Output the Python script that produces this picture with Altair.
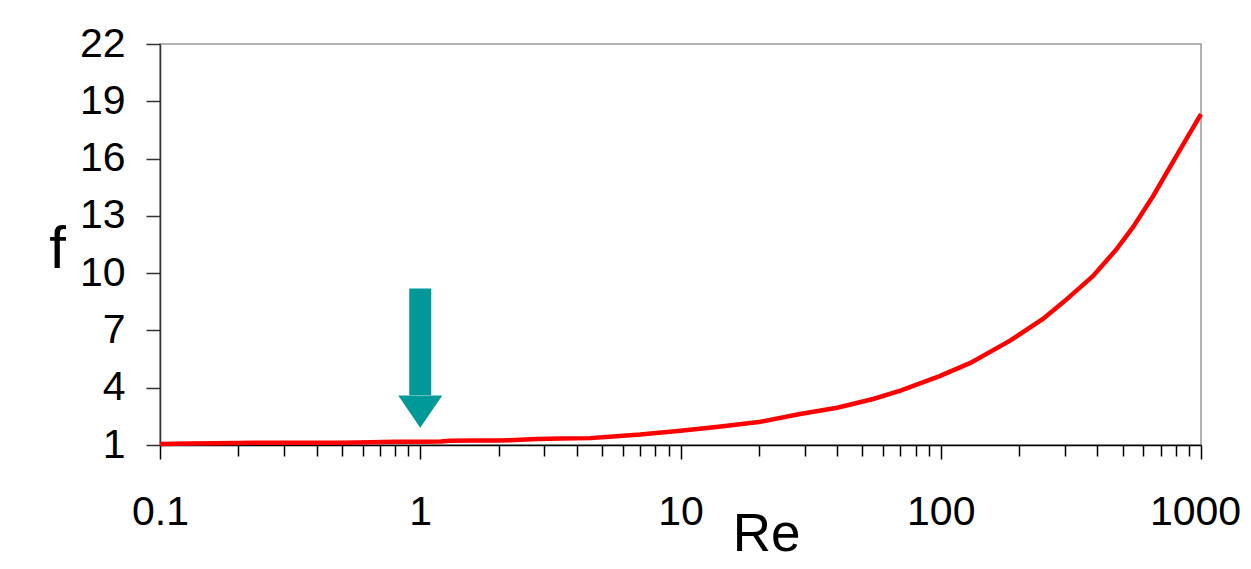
import altair as alt
import pandas as pd

# Curve data
re_vals = [0.1, 0.13, 0.2, 0.3, 0.5, 0.65, 0.8, 1.0, 1.2, 1.3, 1.6, 2.0, 2.2, 2.8,
           3.5, 4.5, 5.5, 7.0, 10, 14, 20, 28.8, 40, 55, 70, 99, 130, 184, 247,
           300, 385, 470, 548, 655, 809, 1000]
f_vals = [1.05, 1.08, 1.11, 1.12, 1.12, 1.15, 1.17, 1.17, 1.18, 1.22, 1.23, 1.23,
          1.25, 1.32, 1.34, 1.36, 1.45, 1.55, 1.75, 1.95, 2.2, 2.62, 2.95, 3.41,
          3.85, 4.61, 5.3, 6.45, 7.6, 8.55, 9.85, 11.2, 12.41, 14.04, 16.2, 18.33]

# Axis ticks
x_tick_values = [0.1, 0.2, 0.3, 0.4, 0.5, 0.6, 0.7, 0.8, 0.9,
                 1, 2, 3, 4, 5, 6, 7, 8, 9,
                 10, 20, 30, 40, 50, 60, 70, 80, 90,
                 100, 200, 300, 400, 500, 600, 700, 800, 900, 1000]
x_label_values = [0.1, 1, 10, 100, 1000]
y_tick_values = [1, 4, 7, 10, 13, 16, 19, 22]

# Arrow annotation (at Re = 1)
arrow_re = [1.0]
arrow_top = [9.2]
arrow_base = [3.6]
arrow_head = [2.75]

curve = pd.DataFrame({"Re": re_vals, "f": f_vals})
arrow = pd.DataFrame({"Re": arrow_re, "top": arrow_top, "base": arrow_base, "head": arrow_head})

label_test = "(" + " || ".join(f"datum.value == {v}" for v in x_label_values) + ")"

x_scale = alt.Scale(type="log", domain=[0.1, 1000], nice=False)
y_scale = alt.Scale(domain=[1, 22], nice=False, zero=False)

x_axis = alt.Axis(
    values=x_tick_values,
    format="~g",
    labelExpr=label_test + " ? datum.label : ''",
    labelOverlap=False,
    labelFlush=False,
    labelFont="Liberation Sans",
    labelFontSize=41,
    labelColor="black",
    labelPadding=33,
    labelOffset={"condition": {"test": "datum.value == 1000", "value": -6}, "value": 0},
    tickSize={"condition": {"test": label_test, "value": 14}, "value": 11},
    tickColor="black",
    tickWidth=1.5,
    domainColor="black",
    domainWidth=1.5,
    grid=False,
    title="Re",
    titleFont="Liberation Sans",
    titleFontSize=53,
    titleFontWeight="normal",
    titleColor="black",
    titleX=606,
    titleY=105,
    titleAlign="center",
    titleBaseline="alphabetic",
)

y_axis = alt.Axis(
    values=y_tick_values,
    labelFont="Liberation Sans",
    labelFontSize=41,
    labelColor="black",
    labelPadding=21,
    tickSize=14,
    tickColor="#333333",
    tickWidth=1.5,
    domainColor="#333333",
    domainWidth=1.5,
    grid=False,
    title="f",
    titleFont="Liberation Sans",
    titleFontSize=60,
    titleFontWeight="normal",
    titleColor="black",
    titleAngle=0,
    titleX=-103,
    titleY=223,
    titleAlign="center",
    titleBaseline="alphabetic",
)

line = alt.Chart(curve).mark_line(color="#FF0000", strokeWidth=4.5).encode(
    x=alt.X("Re:Q", scale=x_scale, axis=x_axis),
    y=alt.Y("f:Q", scale=y_scale, axis=y_axis),
)

shaft = alt.Chart(arrow).mark_rule(color="#009999", strokeWidth=22, strokeCap="butt").encode(
    x=alt.X("Re:Q", scale=x_scale),
    y=alt.Y("top:Q", scale=y_scale),
    y2="base:Q",
)

head = alt.Chart(arrow).mark_point(
    shape="M-1,-0.73L1,-0.73L0,0.73Z",
    filled=True,
    color="#009999",
    opacity=1,
    size=1936,
    strokeWidth=0,
).encode(
    x=alt.X("Re:Q", scale=x_scale),
    y=alt.Y("head:Q", scale=y_scale),
)

chart = alt.layer(line, shaft, head).properties(
    width=1041,
    height=401,
    autosize=alt.AutoSizeParams(type="none"),
    padding={"left": 152, "top": 36, "right": 42, "bottom": 116},
    background="white",
).configure_view(
    stroke="#999999",
    strokeWidth=1.5,
)

chart.save("out.html", embed_options={"renderer": "svg", "actions": False})
